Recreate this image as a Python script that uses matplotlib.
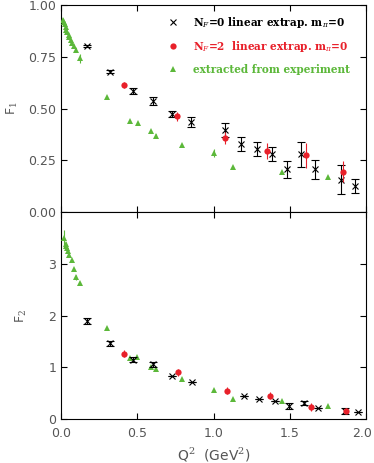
import matplotlib.pyplot as plt
import matplotlib.transforms as mtransforms
import numpy as np

# ---- F1 panel ----
f1_exp_q2 = [0.015, 0.02, 0.025, 0.03, 0.035, 0.04, 0.05, 0.055, 0.065, 0.075, 0.085, 0.10,
             0.125, 0.302, 0.45, 0.503, 0.59, 0.62, 0.79, 1.0, 1.13, 1.447, 1.749]
f1_exp = [0.93, 0.92, 0.91, 0.895, 0.88, 0.87, 0.855, 0.845, 0.83, 0.815, 0.80, 0.785,
          0.742, 0.557, 0.441, 0.432, 0.391, 0.369, 0.325, 0.287, 0.217, 0.192, 0.168]
f1_exp_err = [0.01, 0, 0, 0, 0, 0, 0, 0, 0, 0, 0, 0.01,
              0.02, 0, 0, 0, 0, 0.01, 0, 0.02, 0, 0, 0]

f1_nf0_q2 = [0.173, 0.324, 0.47, 0.603, 0.728, 0.852, 1.077, 1.182, 1.285, 1.386, 1.48,
             1.574, 1.668, 1.838, 1.928]
f1_nf0 = [0.804, 0.678, 0.586, 0.536, 0.475, 0.435, 0.396, 0.328, 0.304, 0.28, 0.206,
          0.279, 0.207, 0.155, 0.127]
f1_nf0_err = [0.005, 0.008, 0.015, 0.02, 0.015, 0.025, 0.035, 0.035, 0.035, 0.035, 0.04,
              0.06, 0.045, 0.07, 0.035]

f1_nf2_q2 = [0.413, 0.763, 1.075, 1.353, 1.609, 1.851]
f1_nf2 = [0.615, 0.462, 0.357, 0.296, 0.275, 0.195]
f1_nf2_err = [0.015, 0.02, 0.03, 0.04, 0.06, 0.05]

# ---- F2 panel ----
f2_exp_q2 = [0.022, 0.03, 0.035, 0.04, 0.045, 0.055, 0.07, 0.087, 0.10, 0.125,
             0.302, 0.45, 0.50, 0.59, 0.62, 0.79, 1.0, 1.13, 1.447, 1.749]
f2_exp = [3.50, 3.38, 3.35, 3.30, 3.24, 3.17, 3.08, 2.90, 2.74, 2.62,
          1.75, 1.18, 1.19, 1.00, 0.97, 0.77, 0.56, 0.39, 0.34, 0.25]
f2_exp_err = [0.15, 0.05, 0, 0, 0, 0.03, 0, 0, 0.05, 0,
              0, 0, 0, 0, 0, 0, 0, 0, 0, 0]

f2_nf0_q2 = [0.173, 0.324, 0.47, 0.603, 0.73, 0.86, 1.2, 1.3, 1.4, 1.497, 1.59, 1.685, 1.86, 1.946]
f2_nf0 = [1.90, 1.46, 1.15, 1.06, 0.84, 0.72, 0.45, 0.39, 0.35, 0.25, 0.31, 0.21, 0.15, 0.13]
f2_nf0_err = [0.06, 0.05, 0.05, 0.05, 0.0, 0.0, 0.0, 0.0, 0.0, 0.05, 0.04, 0.0, 0.06, 0.0]

f2_nf2_q2 = [0.413, 0.765, 1.087, 1.37, 1.636, 1.87]
f2_nf2 = [1.26, 0.90, 0.55, 0.45, 0.23, 0.16]
f2_nf2_err = [0.07, 0.07, 0.06, 0.07, 0.07, 0.05]

legend_labels = [r"N$_F$=0 linear extrap. m$_\pi$=0",
                 r"N$_F$=2  linear extrap. m$_\pi$=0",
                 "extracted from experiment"]

green = '#5cb83a'
red = '#e8202a'
tick_col = '#555555'

plt.rcParams['mathtext.fontset'] = 'dejavuserif'

fig = plt.figure(figsize=(3.74, 4.63), dpi=100)
ax1 = fig.add_axes([0.163, 0.542, 0.816, 0.447])
ax2 = fig.add_axes([0.163, 0.095, 0.816, 0.447])


def draw(ax, eq, ev, ee, bq, bv, be, rq, rv, re):
    ax.errorbar(eq, ev, yerr=ee, fmt='^', color=green, ms=5, mew=0,
                elinewidth=0.8, capsize=2, capthick=0.8, zorder=3)
    ax.errorbar(bq, bv, yerr=be, fmt='x', color='black', ms=5, mew=0.8,
                elinewidth=0.8, capsize=3, capthick=0.8, zorder=4)
    ax.errorbar(rq, rv, yerr=re, fmt='o', color=red, ms=4.5, mew=0,
                elinewidth=0.8, capsize=3, capthick=0.8, zorder=5)
    ax.set_xlim(0, 2.0)
    ax.tick_params(direction='in', top=True, right=True, length=4,
                   labelsize=9, labelcolor=tick_col, width=0.8)
    ax.set_xticks([0, 0.5, 1.0, 1.5, 2.0])


draw(ax1, f1_exp_q2, f1_exp, f1_exp_err, f1_nf0_q2, f1_nf0, f1_nf0_err,
     f1_nf2_q2, f1_nf2, f1_nf2_err)
draw(ax2, f2_exp_q2, f2_exp, f2_exp_err, f2_nf0_q2, f2_nf0, f2_nf0_err,
     f2_nf2_q2, f2_nf2, f2_nf2_err)

ax1.set_ylim(0, 1.0)
ax1.set_yticks([0, 0.25, 0.5, 0.75, 1.0])
ax1.set_yticklabels(['0.00', '0.25', '0.50', '0.75', '1.00'])
ax1.tick_params(labelbottom=False)
ax1.set_ylabel(r"F$_1$", color=tick_col, fontsize=9, labelpad=6)

ax2.set_ylim(0, 4.0)
ax2.set_yticks([0, 1, 2, 3])
ax2.set_xticklabels(['0.0', '0.5', '1.0', '1.5', '2.0'])
ax2.tick_params(axis='x', pad=6)
ax2.set_ylabel(r"F$_2$", color=tick_col, fontsize=9, labelpad=14)
ax2.set_xlabel(r"Q$^2$  (GeV$^2$)", color=tick_col, fontsize=10, labelpad=4)

# nudge the last x tick label so it stays inside the figure
last = ax2.get_xticklabels()[-1]
last.set_transform(last.get_transform() +
                   mtransforms.ScaledTranslation(-3 / 72, 0, fig.dpi_scale_trans))

# legend drawn by hand as in the original
ax1.plot([0.735], [0.918], 'x', color='black', ms=5, mew=0.8)
ax1.plot([0.735], [0.802], 'o', color=red, ms=4.5, mew=0)
ax1.plot([0.735], [0.691], '^', color=green, ms=5, mew=0)
for yy, lab, col in zip([0.918, 0.802, 0.691], legend_labels, ['black', red, green]):
    ax1.text(0.866, yy, lab, color=col, fontsize=7.6, fontweight='bold',
             family='DejaVu Serif', va='center', ha='left')

fig.savefig('out.png', dpi=100)
